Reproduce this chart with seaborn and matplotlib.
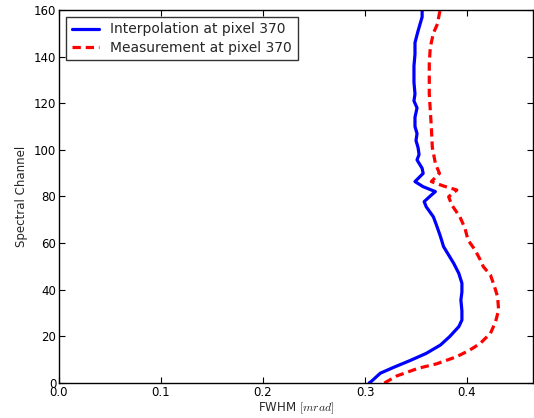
import matplotlib
matplotlib.use("Agg")
import matplotlib.pyplot as plt
import seaborn as sns

sns.set_style("ticks")
plt.rcParams['font.family'] = ['DejaVu Sans']
plt.rcParams['lines.scale_dashes'] = False
plt.rcParams['mathtext.fontset'] = 'cm'

# Interpolation (blue, solid)
interp_channel = [0, 0.6, 4.2, 6.7, 9.6, 12.7, 16.3, 19.9, 24.2, 27, 31, 35.6, 39, 42.8, 47, 51.3, 54.9,
                  58.5, 62.8, 67.8, 71.3, 75.6, 77.8, 80.6, 82.1, 84.2, 86.4, 89.9, 92.1, 95.7, 98, 101,
                  104, 107, 110, 114, 118, 121, 124, 129, 132, 136, 141, 146, 151, 154, 157, 160]
interp_fwhm = [0.304, 0.306, 0.315, 0.328, 0.344, 0.360, 0.374, 0.383, 0.392, 0.395, 0.395, 0.394, 0.395,
               0.395, 0.392, 0.387, 0.382, 0.377, 0.374, 0.370, 0.367, 0.360, 0.358, 0.365, 0.369, 0.357,
               0.349, 0.357, 0.356, 0.351, 0.353, 0.352, 0.350, 0.351, 0.349, 0.349, 0.351, 0.348, 0.349,
               0.348, 0.348, 0.348, 0.349, 0.349, 0.352, 0.354, 0.356, 0.356]

# Measurement (red, dashed)
meas_channel = [0, 3, 6.3, 8.2, 11.3, 14.2, 17, 21.3, 26.3, 31.3, 37, 41.3, 46.3, 49.9, 52.8, 57, 61.3,
                66.4, 71.3, 76.4, 79.9, 82.8, 84.5, 86.4, 89.9, 94.2, 101, 110, 117, 124, 130, 137, 144,
                150, 154, 158.7, 160]
meas_fwhm = [0.319, 0.331, 0.352, 0.370, 0.390, 0.403, 0.413, 0.423, 0.428, 0.431, 0.430, 0.427, 0.423,
             0.416, 0.413, 0.408, 0.401, 0.398, 0.393, 0.385, 0.382, 0.390, 0.377, 0.365, 0.373, 0.369,
             0.366, 0.365, 0.364, 0.363, 0.363, 0.363, 0.364, 0.367, 0.371, 0.373, 0.374]

x_ticks = [0.0, 0.1, 0.2, 0.3, 0.4]
y_ticks = [0, 20, 40, 60, 80, 100, 120, 140, 160]

fig = plt.figure(figsize=(5.34, 4.18), dpi=100)
ax = fig.add_axes([59/534, 35/418, 474/534, 373/418])

sns.lineplot(x=interp_fwhm, y=interp_channel, sort=False, estimator=None, ax=ax,
             color='#0000ff', lw=2.3, label='Interpolation at pixel 370',
             solid_joinstyle='round', solid_capstyle='round')
sns.lineplot(x=meas_fwhm, y=meas_channel, sort=False, estimator=None, ax=ax,
             color='#ff0000', lw=2.3, label='Measurement at pixel 370',
             dash_joinstyle='round')
ax.lines[1].set_dashes((6, 3.5))

ax.set_xlim(0, 0.4647)
ax.set_ylim(0, 160)
ax.set_xticks(x_ticks)
ax.set_yticks(y_ticks)
ax.set_xticklabels([f"{t:.1f}" for t in x_ticks], fontsize=8.5)
ax.set_yticklabels([str(t) for t in y_ticks], fontsize=8.5)
ax.tick_params(direction='in', length=4, width=0.8, top=True, right=True, pad=2, colors='black')
for s in ax.spines.values():
    s.set_visible(True)
    s.set_color('black')
    s.set_linewidth(1.0)

ax.set_xlabel(r'FWHM $[mrad]$', fontsize=8.5, labelpad=1)
ax.set_ylabel('Spectral Channel', fontsize=8.5, labelpad=4)

leg = ax.legend(loc='upper left', fontsize=10, frameon=True, fancybox=False,
                edgecolor='black', handlelength=2.0, borderaxespad=0.5, borderpad=0.4,
                labelspacing=0.3)
leg.get_frame().set_linewidth(1.0)
leg.get_lines()[1].set_dashes((6, 3.5))

fig.savefig('out.png', dpi=100)
